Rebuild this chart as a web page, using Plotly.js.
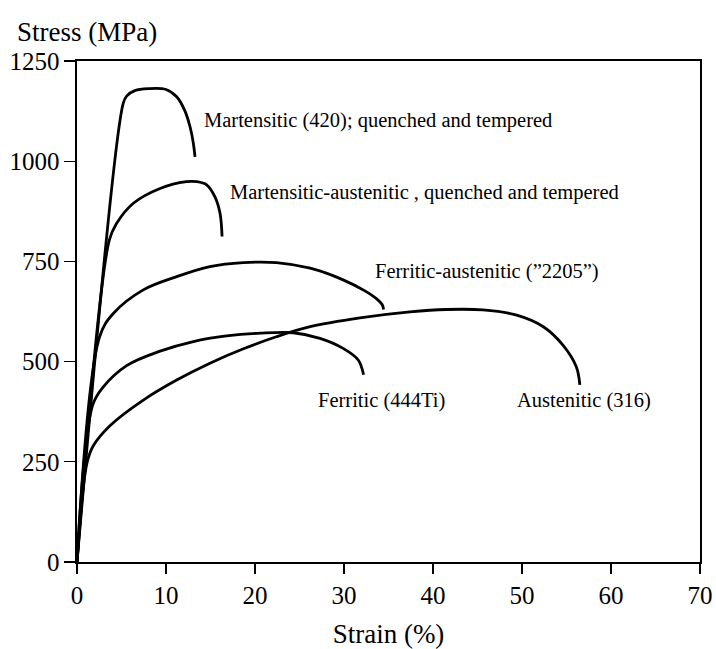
<!DOCTYPE html>
<html>
<head>
<meta charset="utf-8">
<script src="https://cdn.plot.ly/plotly-3.0.1.min.js"></script>
<style>html,body{margin:0;padding:0;background:#fff;}#chart{width:716px;height:649px;}</style>
</head>
<body>
<div id="chart"></div>
<script>
// Strain (%) and Stress (MPa)
const seriesNames = ["Martensitic (420); quenched and tempered",
  "Martensitic-austenitic , quenched and tempered",
  "Ferritic-austenitic (\u201d2205\u201d)",
  "Ferritic (444Ti)",
  "Austenitic (316)"];

const martStrain = [0, 5.2, 5.6, 6.5, 8.0, 10.0, 11.2, 12.1, 12.7, 13.07, 13.26];
const martStress = [0, 1145, 1163, 1176, 1181, 1179, 1161, 1127, 1086, 1045, 1011];

const martAusStrain = [0, 3.63, 4.46, 6.33, 9.33, 12.3, 13.45, 14.57, 15.5, 16.07, 16.3];
const martAusStress = [0, 803, 845, 895, 932, 949, 949, 941, 911, 870, 812];

const duplexStrain = [0, 2.54, 4.08, 7.45, 11.2, 14.94, 18.7, 22.4, 26.2, 29.9, 32.3, 33.7, 34.3, 34.45];
const duplexStress = [0, 562, 620, 679, 712, 737, 747, 747, 733, 704, 677, 656, 642, 630];

const ferrStrain = [0, 1.77, 2.96, 5.58, 9.33, 13.07, 16.8, 20.6, 24.3, 27.3, 29.9, 31.6, 32.2];
const ferrStress = [0, 392, 437, 490, 526, 550, 564, 571, 572, 558, 533, 504, 467];

const austStrain = [0, 1.11, 1.83, 3.7, 7.45, 11.2, 14.94, 18.7, 22.4, 26.2, 31.8, 37.4, 41.5, 45.6, 49.4, 52.4, 54.6, 56.1, 56.5];
const austStress = [0, 246, 290, 340, 404, 454, 496, 532, 562, 587, 609, 624, 630, 629, 616, 587, 541, 487, 442];

// label anchor points (strain, stress)
const labelStrain = [14.04, 16.97, 33.26, 26.85, 49.2];
const labelStress = [1101, 923, 724, 404, 402];

const xTicks = [0, 10, 20, 30, 40, 50, 60, 70];
const yTicks = [0, 250, 500, 750, 1000, 1250];

const FONT = "'Liberation Serif', 'Times New Roman', serif";
const curves = [[martStrain, martStress],[martAusStrain, martAusStress],[duplexStrain, duplexStress],[ferrStrain, ferrStress],[austStrain, austStress]];

const traces = curves.map((c, i) => ({
  x: c[0], y: c[1], type: 'scatter', mode: 'lines', name: seriesNames[i],
  line: {color: '#000', width: 2.8, shape: 'spline', smoothing: 1},
  hoverinfo: 'skip'
}));

const annotations = seriesNames.map((t, i) => ({
  x: labelStrain[i], y: labelStress[i], xref: 'x', yref: 'y', text: t,
  showarrow: false, xanchor: 'left', yanchor: 'middle',
  font: {family: FONT, size: 20.5, color: '#000'}
}));
annotations.push({
  x: -0.0995, y: 1.058, xref: 'paper', yref: 'paper', text: 'Stress (MPa)',
  showarrow: false, xanchor: 'left', yanchor: 'middle',
  font: {family: FONT, size: 27, color: '#000'}
});

const layout = {
  width: 716, height: 649,
  margin: {l: 77, r: 16, t: 61, b: 87},
  paper_bgcolor: '#fff', plot_bgcolor: '#fff',
  showlegend: false,
  font: {family: FONT, color: '#000'},
  xaxis: {
    range: [0, 70], tickvals: xTicks, ticktext: xTicks.map(String),
    showgrid: false, zeroline: false, showline: true, mirror: true,
    linecolor: '#000', linewidth: 1.6, ticks: 'outside', ticklen: 10, tickwidth: 1.4, tickcolor: '#000',
    tickfont: {family: FONT, size: 25, color: '#000'},
    title: {text: 'Strain (%)', font: {family: FONT, size: 27, color: '#000'}, standoff: 16}
  },
  yaxis: {
    range: [0, 1250], tickvals: yTicks, ticktext: yTicks.map(String),
    showgrid: false, zeroline: false, showline: true, mirror: true,
    linecolor: '#000', linewidth: 1.6, ticks: 'outside', ticklen: 11, tickwidth: 1.4, tickcolor: '#000',
    tickfont: {family: FONT, size: 25, color: '#000'}
  },
  annotations: annotations
};

Plotly.newPlot('chart', traces, layout, {displayModeBar: false, staticPlot: true});
</script>
</body>
</html>
